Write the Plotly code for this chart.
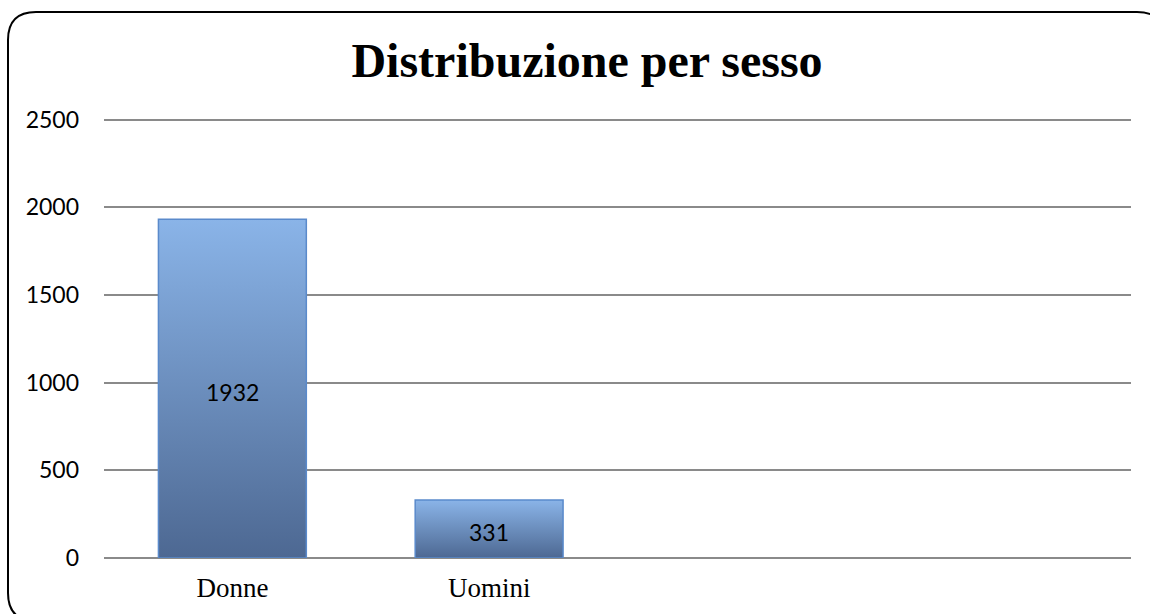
import plotly.graph_objects as go

categories = ["Donne", "Uomini", "", ""]
values = [1932, 331]
y_ticks = [0, 500, 1000, 1500, 2000, 2500]
title_text = "Distribuzione per sesso"

W, H = 1150, 614
Y_MAX = 2520
L_M, R_M, B_M = 104, 19, 56
SCALE = 438 / 2500
T_M = round(H - B_M - Y_MAX * SCALE)
PW = W - L_M - R_M
PH = H - T_M - B_M

def px2x(px):
    return (px - L_M) / PW

def py2y(py):
    return (H - B_M - py) / PH

bar_w = 0.576
fig = go.Figure()

for i, v in enumerate(values):
    x0, x1 = i - bar_w / 2, i + bar_w / 2
    fig.add_trace(go.Scatter(
        x=[x0, x1, x1, x0, x0], y=[0, 0, v, v, 0],
        mode="lines", fill="toself",
        line=dict(color="#5A8ACB", width=1.5),
        fillgradient=dict(type="vertical",
                          colorscale=[[0, "#4D6892"], [1, "#8AB4E8"]]),
        hoverinfo="skip", showlegend=False,
    ))
    fig.add_annotation(x=i, y=v / 2, text=str(v), showarrow=False,
                       yshift=-3, xref="x", yref="y",
                       font=dict(family="Lato", size=23, color="#000000"))

# rounded border
Lb, Tb, Rb, Bb, r = 8, 12, 1165, 621, 28
path = (
    f"M {px2x(Lb)},{py2y(Tb + r)} Q {px2x(Lb)},{py2y(Tb)} {px2x(Lb + r)},{py2y(Tb)} "
    f"L {px2x(Rb - r)},{py2y(Tb)} Q {px2x(Rb)},{py2y(Tb)} {px2x(Rb)},{py2y(Tb + r)} "
    f"L {px2x(Rb)},{py2y(Bb - r)} Q {px2x(Rb)},{py2y(Bb)} {px2x(Rb - r)},{py2y(Bb)} "
    f"L {px2x(Lb + r)},{py2y(Bb)} Q {px2x(Lb)},{py2y(Bb)} {px2x(Lb)},{py2y(Bb - r)} Z"
)
fig.add_shape(type="path", path=path, xref="paper", yref="paper",
              line=dict(color="#000000", width=2), layer="below")

fig.update_layout(
    width=W, height=H,
    margin=dict(l=L_M, r=R_M, t=T_M, b=B_M),
    paper_bgcolor="white", plot_bgcolor="white",
    title=dict(text=title_text, x=587 / W, xanchor="center",
               y=1 - 60 / H, yanchor="middle",
               font=dict(family="Liberation Serif", size=48, color="#000000", weight="bold")),
    xaxis=dict(range=[-0.5, 3.5], tickmode="array",
               tickvals=list(range(len(categories))), ticktext=categories,
               showgrid=False, zeroline=False, showline=False,
               tickfont=dict(family="Liberation Serif", size=27, color="#000000"),
               ticklabelstandoff=11),
    yaxis=dict(range=[0, Y_MAX], tickmode="array", tickvals=y_ticks,
               showgrid=True, gridcolor="#8A8A8A", gridwidth=1.5,
               zeroline=True, zerolinecolor="#8A8A8A", zerolinewidth=1.5,
               showline=False,
               tickfont=dict(family="Lato", size=23, color="#000000"),
               ticklabelstandoff=24),
)

fig.write_html("out.html", config={"displayModeBar": False},
               post_script="document.body.style.margin='0';")
